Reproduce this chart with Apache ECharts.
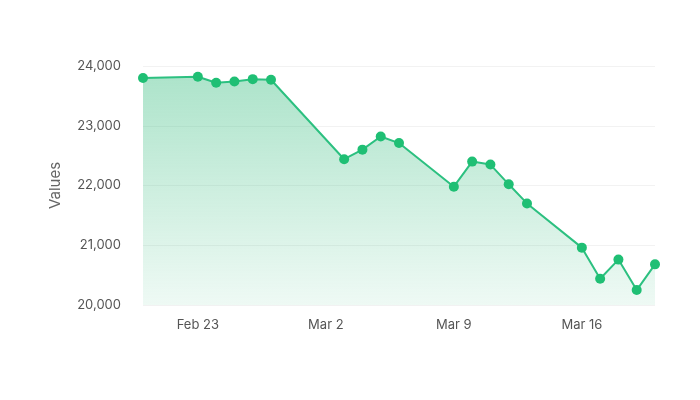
<!DOCTYPE html>
<html><head><meta charset="utf-8">
<script src="https://cdn.jsdelivr.net/npm/echarts@6/dist/echarts.min.js"></script>
<style>html,body{margin:0;background:#fff}#c{width:700px;height:400px}</style>
</head><body><div id="c"></div>
<script>
const dates = ['2025-02-20','2025-02-23','2025-02-24','2025-02-25','2025-02-26','2025-02-27',
  '2025-03-03','2025-03-04','2025-03-05','2025-03-06',
  '2025-03-09','2025-03-10','2025-03-11','2025-03-12','2025-03-13',
  '2025-03-16','2025-03-17','2025-03-18','2025-03-19','2025-03-20'];
const values = [23800,23820,23720,23740,23780,23770,
  22440,22600,22820,22710,
  21980,22400,22350,22020,21700,
  20960,20440,20760,20250,20680];
const tickDates = ['2025-02-23','2025-03-02','2025-03-09','2025-03-16'];
const tickLabels = ['Feb 23','Mar 2','Mar 9','Mar 16'];
const yTicks = [20000,21000,22000,23000,24000];

const base = Date.parse(dates[0]);
const day = d => Math.round((Date.parse(d) - base) / 86400000);
const xs = dates.map(day);
const tickXs = tickDates.map(day);
const chart = echarts.init(document.getElementById('c'));
chart.setOption({
  textStyle:{fontFamily:'Inter'},
  grid:{left:143,right:45,top:66,bottom:95},
  xAxis:{type:'value',min:xs[0],max:xs[xs.length-1],
    axisLine:{show:false},axisTick:{show:false},splitLine:{show:false},
    axisLabel:{customValues:tickXs,color:'#555',fontSize:13,margin:14,
      formatter:v=>tickLabels[tickXs.indexOf(v)]||''}},
  yAxis:{type:'value',min:yTicks[0],max:yTicks[yTicks.length-1],interval:1000,
    name:'Values',nameLocation:'middle',nameGap:80,
    nameTextStyle:{color:'#666',fontSize:15},
    axisLine:{show:false},axisTick:{show:false},
    splitLine:{lineStyle:{color:'#f2f2f2'}},
    axisLabel:{color:'#555',fontSize:13,margin:22,
      formatter:v=>v.toLocaleString('en-US')}},
  series:[{type:'line',data:xs.map((x,i)=>[x,values[i]]),
    symbol:'circle',symbolSize:10,
    lineStyle:{color:'#2cc080',width:2},
    itemStyle:{color:'#1fbf74'},
    areaStyle:{color:new echarts.graphic.LinearGradient(0,0,0,1,[
      {offset:0,color:'rgba(60,190,130,0.6)'},{offset:1,color:'rgba(60,190,130,0.12)'}])}
  }]
});
</script></body></html>
